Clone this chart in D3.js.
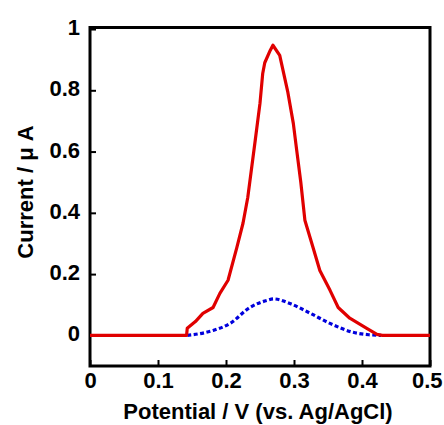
<!DOCTYPE html>
<html>
<head>
<meta charset="utf-8">
<script src="https://cdn.jsdelivr.net/npm/d3@7"></script>
<style>
  html, body { margin: 0; padding: 0; background: #fff; }
  svg { display: block; }
  text { font-family: "Liberation Sans", Arial, sans-serif; font-weight: bold; fill: #000; }
</style>
</head>
<body>
<svg id="chart" width="444" height="425"></svg>
<script>
// Data (potential in V, current in µA)
const redPotential = [0, 0.142, 0.143, 0.155, 0.166, 0.181, 0.191, 0.203, 0.216, 0.225, 0.232, 0.243, 0.25, 0.254, 0.257, 0.265, 0.269, 0.279, 0.291, 0.299, 0.304, 0.31, 0.316, 0.328, 0.338, 0.353, 0.365, 0.382, 0.407, 0.422, 0.43, 0.5];
const redCurrent   = [0, 0, 0.023, 0.045, 0.072, 0.091, 0.137, 0.18, 0.287, 0.366, 0.45, 0.637, 0.758, 0.855, 0.89, 0.93, 0.947, 0.914, 0.793, 0.692, 0.604, 0.5, 0.376, 0.287, 0.212, 0.147, 0.091, 0.056, 0.023, 0.003, 0, 0];
const bluePotential = [0.143, 0.16, 0.181, 0.206, 0.235, 0.26, 0.27, 0.294, 0.324, 0.353, 0.387, 0.41, 0.428];
const blueCurrent   = [0, 0.005, 0.016, 0.039, 0.091, 0.114, 0.119, 0.104, 0.072, 0.039, 0.01, 0.002, 0];
const xTicks = [0, 0.1, 0.2, 0.3, 0.4, 0.5];
const xTickLabels = ["0", "0.1", "0.2", "0.3", "0.4", "0.5"];
const yTicks = [0, 0.2, 0.4, 0.6, 0.8, 1];
const yTickLabels = ["0", "0.2", "0.4", "0.6", "0.8", "1"];
const xTitle = "Potential / V (vs. Ag/AgCl)";
const yTitle = "Current / \u03BC A";

const svg = d3.select("#chart");
const x = d3.scaleLinear().domain([0, 0.5]).range([90, 430]);
const y = d3.scaleLinear().domain([-0.1, 1.005]).range([366, 27.5]);

// Frame
svg.append("rect")
  .attr("x", x(0)).attr("y", y(1.005))
  .attr("width", x(0.5) - x(0)).attr("height", y(-0.1) - y(1.005))
  .attr("fill", "none").attr("stroke", "#000").attr("stroke-width", 3);

// Y axis
const yAxis = d3.axisLeft(y)
  .tickValues(yTicks)
  .tickFormat((d, i) => yTickLabels[i])
  .tickSizeInner(-6).tickSizeOuter(0).tickPadding(10);
const gy = svg.append("g").attr("transform", `translate(${x(0)},0)`).call(yAxis);
gy.select(".domain").remove();
gy.selectAll(".tick line").attr("stroke", "#000").attr("stroke-width", 2);
gy.selectAll(".tick text").attr("font-size", 22).attr("x", -10).attr("y", 0).attr("dy", "0.25em")
  .style("font-family", '"Liberation Sans", Arial, sans-serif').style("font-weight", "bold");

// X axis
const xAxis = d3.axisBottom(x)
  .tickValues(xTicks)
  .tickFormat((d, i) => xTickLabels[i])
  .tickSizeInner(-6).tickSizeOuter(0).tickPadding(8);
const gx = svg.append("g").attr("transform", `translate(0,${y(-0.1)})`).call(xAxis);
gx.select(".domain").remove();
gx.selectAll(".tick line").attr("stroke", "#000").attr("stroke-width", 2);
gx.selectAll(".tick text").attr("font-size", 22).attr("y", 22).attr("dy", 0)
  .style("font-family", '"Liberation Sans", Arial, sans-serif').style("font-weight", "bold");
// keep the last label inside the picture, as in the reference
gx.selectAll(".tick text").filter((d, i) => i === xTicks.length - 1)
  .attr("text-anchor", "end").attr("x", 442 - x(0.5));

// Titles
svg.append("text").attr("x", 258).attr("y", 419).attr("text-anchor", "middle")
  .attr("font-size", 22).text(xTitle);
svg.append("text").attr("transform", "translate(33,192) rotate(-90)").attr("text-anchor", "middle")
  .attr("font-size", 22).text(yTitle);

// Lines
svg.append("clipPath").attr("id", "clip").append("rect")
  .attr("x", x(0)).attr("y", y(1.005)).attr("width", x(0.5) - x(0)).attr("height", y(-0.1) - y(1.005));

const blueData = bluePotential.map((v, i) => [v, blueCurrent[i]]);
const redData = redPotential.map((v, i) => [v, redCurrent[i]]);

svg.append("path").datum(blueData)
  .attr("d", d3.line().x(d => x(d[0])).y(d => y(d[1])).curve(d3.curveMonotoneX))
  .attr("fill", "none").attr("stroke", "#0000dd").attr("stroke-width", 3.2)
  .attr("stroke-dasharray", "4,2.5");

svg.append("path").datum(redData)
  .attr("d", d3.line().x(d => x(d[0])).y(d => y(d[1])))
  .attr("fill", "none").attr("stroke", "#e00000").attr("stroke-width", 3.2)
  .attr("stroke-linejoin", "round").attr("clip-path", "url(#clip)");
</script>
</body>
</html>
